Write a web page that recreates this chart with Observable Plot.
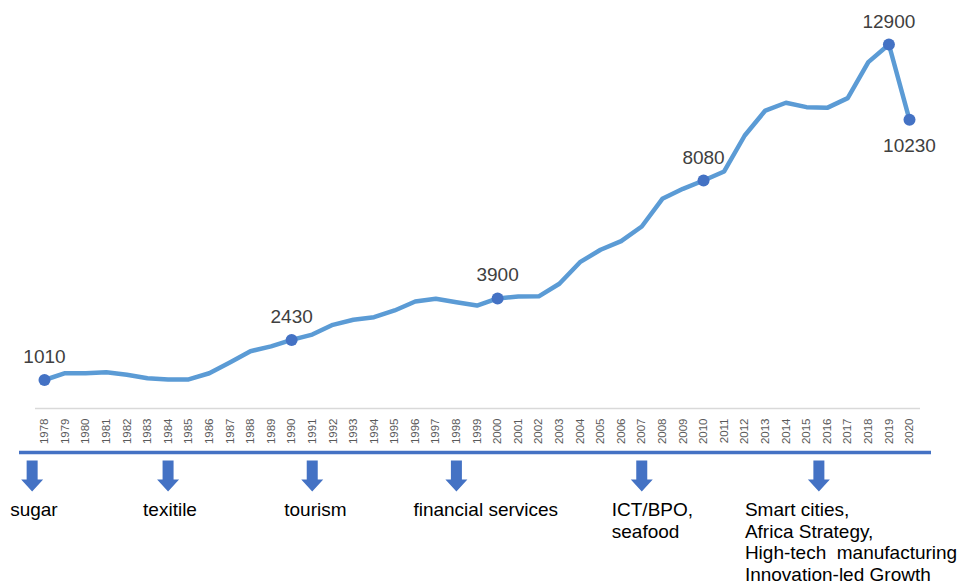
<!DOCTYPE html>
<html>
<head>
<meta charset="utf-8">
<script src="https://cdn.jsdelivr.net/npm/d3@7"></script>
<script src="https://cdn.jsdelivr.net/npm/@observablehq/plot@0.6"></script>
<style>
  html, body { margin: 0; padding: 0; background: #fff; overflow: hidden; }
  #chart svg { display: block; }
</style>
</head>
<body>
<div id="chart"></div>
<script>
// Years (categories)
const years = [1978,1979,1980,1981,1982,1983,1984,1985,1986,1987,1988,1989,1990,1991,1992,1993,1994,1995,1996,1997,1998,1999,2000,2001,2002,2003,2004,2005,2006,2007,2008,2009,2010,2011,2012,2013,2014,2015,2016,2017,2018,2019,2020];
// GDP per capita (US$)
const values = [1010,1250,1250,1285,1195,1075,1030,1030,1250,1630,2030,2200,2430,2620,2965,3145,3235,3475,3790,3890,3765,3650,3900,3970,3975,4420,5185,5625,5930,6450,7430,7785,8080,8400,9675,10560,10835,10680,10655,11000,12275,12900,10230];
// Highlighted points
const labelYearsAbove = [1978, 1990, 2000, 2010, 2019];
const labelYearsBelow = [2020];
// Growth sectors and the year each arrow points at
const sectorYears = [1977.4, 1984, 1991, 1998, 2007, 2015.6];
const sectorLabels = ["sugar", "texitile", "tourism", "financial services", "ICT/BPO,\nseafood", "Smart cities,\nAfrica Strategy,\nHigh-tech\u00a0 manufacturing\nInnovation-led Growth"];

const data = years.map((year, i) => ({year, value: values[i]}));
const above = data.filter(d => labelYearsAbove.includes(d.year));
const below = data.filter(d => labelYearsBelow.includes(d.year));
const sectors = sectorYears.map((year, i) => ({year, label: sectorLabels[i]}));

const FONT = "'Liberation Sans', Arial, Helvetica, sans-serif";
const labelDx = [-22, -25, -28, -43, -30, -74];

const blockArrow = {
  draw(ctx, l) {
    const sw = 5.5, hw = 11, hl = 12;
    ctx.moveTo(-sw, 0);
    ctx.lineTo(-sw, -(l - hl));
    ctx.lineTo(-hw, -(l - hl));
    ctx.lineTo(0, -l);
    ctx.lineTo(hw, -(l - hl));
    ctx.lineTo(sw, -(l - hl));
    ctx.lineTo(sw, 0);
    ctx.closePath();
  }
};

const chart = Plot.plot({
  width: 963,
  height: 581,
  marginTop: 44,
  marginBottom: 173,
  marginLeft: 44,
  marginRight: 54,
  style: {fontFamily: FONT, background: "#fff"},
  x: {type: "linear", domain: [1978, 2020]},
  y: {domain: [0, 12900], axis: null},
  marks: [
    Plot.ruleY([0], {stroke: "#d9d9d9", strokeWidth: 1.5, insetLeft: -9, insetRight: -11}),
    Plot.axisX({
      ticks: years,
      tickFormat: d => String(d),
      tickRotate: -90,
      tickSize: 0,
      tickPadding: 10,
      fontSize: 11.5,
      color: "#595959",
      label: null
    }),
    Plot.ruleY([0], {stroke: "#4472C4", strokeWidth: 3.5, dy: 44, insetLeft: -25, insetRight: -22}),
    Plot.line(data, {x: "year", y: "value", stroke: "#5B9BD5", strokeWidth: 4.5, strokeLinejoin: "round", strokeLinecap: "round"}),
    Plot.dot([...above, ...below], {x: "year", y: "value", r: 6, fill: "#4472C4", stroke: "none"}),
    Plot.text(above, {x: "year", y: "value", text: d => String(d.value), lineAnchor: "bottom", dy: -17, fontSize: 19, fill: "#404040"}),
    Plot.text(below, {x: "year", y: "value", text: d => String(d.value), lineAnchor: "top", dy: 19, fontSize: 19, fill: "#404040"}),
    Plot.vector(sectors, {x: "year", y: 0, dy: 52, length: 31, rotate: 180, anchor: "start", shape: blockArrow, fill: "#4472C4", stroke: "none"}),
    ...sectors.map((s, i) => Plot.text([s], {
      x: "year", y: 0, text: "label", textAnchor: "start", lineAnchor: "top",
      dx: labelDx[i], dy: 92, fontSize: 19, lineHeight: 1.14, fill: "#000"
    }))
  ]
});
document.getElementById("chart").appendChild(chart);
</script>
</body>
</html>
